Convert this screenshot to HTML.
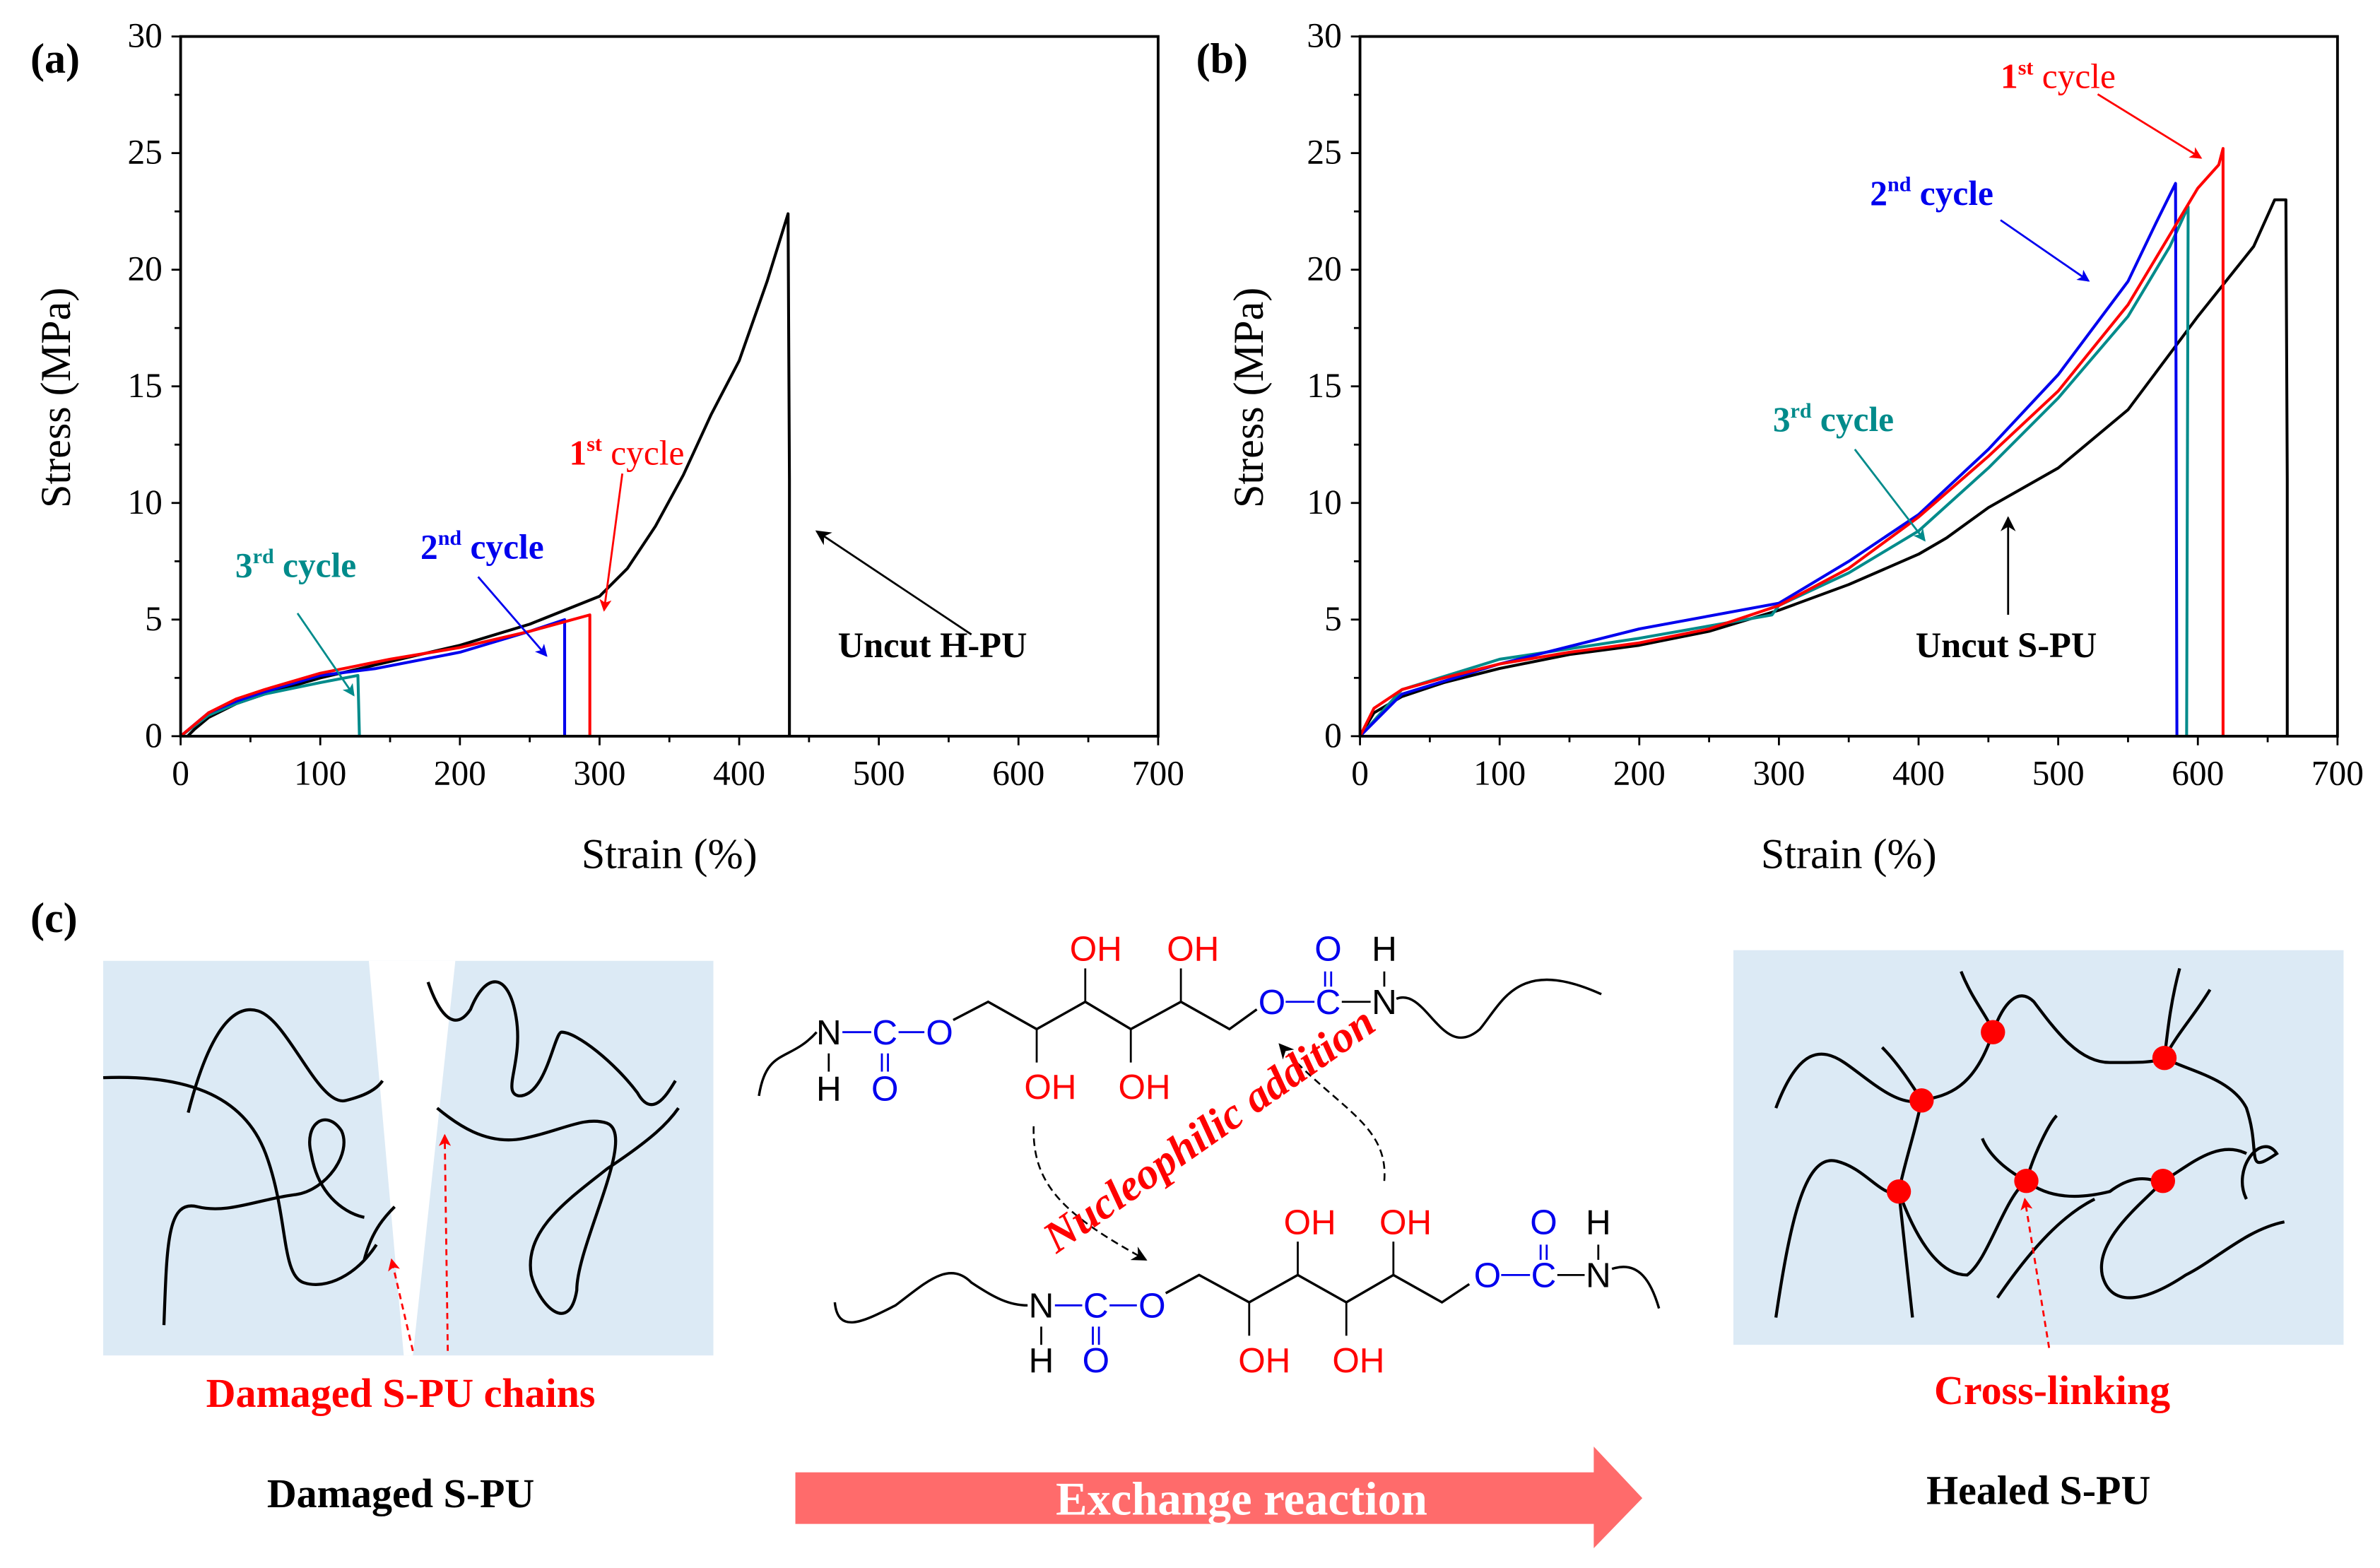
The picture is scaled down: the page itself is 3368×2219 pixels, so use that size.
<!DOCTYPE html>
<html><head><meta charset="utf-8"><style>
html,body{margin:0;padding:0;background:#fff;}
svg{display:block;}
text{font-family:"Liberation Serif",serif;}
.sans{font-family:"Liberation Sans",sans-serif;}
</style></head><body>
<svg id="fig" width="3368" height="2219" viewBox="0 0 1568 1033" xmlns="http://www.w3.org/2000/svg">
<defs>
<marker id="ahR" markerWidth="8" markerHeight="8" refX="7" refY="4" orient="auto" markerUnits="userSpaceOnUse"><path d="M0,0 L8,4 L0,8 L2,4 z" fill="#ff0000"/></marker>
<marker id="ahB" markerWidth="8" markerHeight="8" refX="7" refY="4" orient="auto" markerUnits="userSpaceOnUse"><path d="M0,0 L8,4 L0,8 L2,4 z" fill="#0000ee"/></marker>
<marker id="ahT" markerWidth="8" markerHeight="8" refX="7" refY="4" orient="auto" markerUnits="userSpaceOnUse"><path d="M0,0 L8,4 L0,8 L2,4 z" fill="#008b8b"/></marker>
<marker id="ahK" markerWidth="10" markerHeight="10" refX="9" refY="5" orient="auto" markerUnits="userSpaceOnUse"><path d="M0,0 L10,5 L0,10 L3,5 z" fill="#000"/></marker>
</defs>
<g id="panelA"></g>
<g id="panelB"></g>

<g font-weight="bold">
<text x="375" y="306" font-size="23" fill="#ff0000" font-weight="normal"><tspan font-weight="bold">1</tspan><tspan font-size="14" dy="-9" font-weight="bold">st</tspan><tspan dy="9"> cycle</tspan></text>
<line x1="410" y1="312" x2="398" y2="402" stroke="#ff0000" stroke-width="1.3" marker-end="url(#ahR)"/>
<text x="277" y="368" font-size="23" fill="#0000ee">2<tspan font-size="14" dy="-9">nd</tspan><tspan dy="9"> cycle</tspan></text>
<line x1="315" y1="380" x2="360" y2="432" stroke="#0000ee" stroke-width="1.3" marker-end="url(#ahB)"/>
<text x="155" y="380" font-size="23" fill="#008b8b">3<tspan font-size="14" dy="-9">rd</tspan><tspan dy="9"> cycle</tspan></text>
<line x1="196" y1="404" x2="233" y2="458" stroke="#008b8b" stroke-width="1.3" marker-end="url(#ahT)"/>
<text x="552" y="433" font-size="23.5" fill="#000">Uncut H-PU</text>
<line x1="640" y1="418" x2="538" y2="350" stroke="#000" stroke-width="1.3" marker-end="url(#ahK)"/>
</g>
<g font-weight="bold">
<text x="1318" y="58" font-size="23" fill="#ff0000" font-weight="normal"><tspan font-weight="bold">1</tspan><tspan font-size="14" dy="-9" font-weight="bold">st</tspan><tspan dy="9"> cycle</tspan></text>
<line x1="1382" y1="62" x2="1450" y2="104" stroke="#ff0000" stroke-width="1.3" marker-end="url(#ahR)"/>
<text x="1232" y="135" font-size="23" fill="#0000ee">2<tspan font-size="14" dy="-9">nd</tspan><tspan dy="9"> cycle</tspan></text>
<line x1="1318" y1="145" x2="1376" y2="185" stroke="#0000ee" stroke-width="1.3" marker-end="url(#ahB)"/>
<text x="1168" y="284" font-size="23" fill="#008b8b">3<tspan font-size="14" dy="-9">rd</tspan><tspan dy="9"> cycle</tspan></text>
<line x1="1222" y1="296" x2="1268" y2="356" stroke="#008b8b" stroke-width="1.3" marker-end="url(#ahT)"/>
<text x="1262" y="433" font-size="23.5" fill="#000">Uncut S-PU</text>
<line x1="1323" y1="405" x2="1323" y2="341" stroke="#000" stroke-width="1.3" marker-end="url(#ahK)"/>
</g>

<g>
<text x="20" y="614" font-size="28" font-weight="bold">(c)</text>
<g>
<rect x="68" y="633" width="402" height="260" fill="#dceaf5"/>
<polygon points="243,633 300,633 272,893 266,893" fill="#fff"/>
<g fill="none" stroke="#000" stroke-width="2">
<path d="M68,710 C120,708 160,720 175,760 C190,800 185,840 200,845 C215,850 235,840 248,820"/>
<path d="M124,733 C135,690 150,660 170,666 C190,672 210,730 228,725 C240,722 248,718 252,712"/>
<path d="M108,873 C110,820 110,790 130,795 C150,800 170,790 195,787 C215,784 232,760 225,745 C215,730 200,740 205,760 C210,790 230,800 240,802"/>
<path d="M282,647 C290,670 300,680 310,665 C320,640 335,640 340,670 C345,700 330,720 342,722 C360,722 365,680 370,680 C380,680 405,700 420,720 C430,738 440,720 445,712"/>
<path d="M288,730 C300,740 320,755 345,750 C370,745 385,735 400,740 C420,748 380,820 380,850 C375,880 355,860 350,840 C345,810 375,790 400,770 C430,750 440,740 447,730"/>
<path d="M240,830 C245,810 255,800 260,795"/>
</g>
<line x1="272" y1="890" x2="258" y2="830" stroke="#ff0000" stroke-width="1.3" stroke-dasharray="4,3" marker-end="url(#ahR)"/>
<line x1="295" y1="890" x2="293" y2="748" stroke="#ff0000" stroke-width="1.3" stroke-dasharray="4,3" marker-end="url(#ahR)"/>
<text x="264" y="927" font-size="27" font-weight="bold" fill="#ff0000" text-anchor="middle">Damaged S-PU chains</text>
<text x="264" y="993" font-size="27" font-weight="bold" fill="#000" text-anchor="middle">Damaged S-PU</text>
</g>

<g>
<rect x="1142" y="626" width="402" height="260" fill="#dceaf5"/>
<g fill="none" stroke="#000" stroke-width="2">
<path d="M1170,730 C1185,690 1200,690 1215,700 C1230,710 1250,730 1266,725 C1280,722 1300,720 1313,680 C1320,660 1330,650 1340,660 C1355,680 1370,700 1390,700 C1410,700 1420,700 1426,697 C1440,705 1470,710 1480,730 C1490,760 1478,775 1500,760 C1490,745 1470,770 1480,790"/>
<path d="M1292,640 C1300,660 1310,670 1313,680"/>
<path d="M1436,638 C1430,660 1428,680 1426,697 C1435,680 1445,670 1456,652"/>
<path d="M1240,690 C1250,700 1260,715 1266,725 C1262,745 1255,765 1251,785"/>
<path d="M1170,868 C1180,800 1190,760 1210,765 C1230,770 1240,790 1251,785 C1260,810 1275,840 1296,840 C1310,830 1320,790 1335,778 C1350,790 1370,790 1390,785 C1410,770 1420,780 1425,778 C1440,770 1460,750 1480,760"/>
<path d="M1251,785 C1255,820 1258,850 1260,868"/>
<path d="M1306,750 C1310,760 1320,770 1335,778 C1340,760 1350,740 1355,735"/>
<path d="M1316,855 C1340,820 1360,800 1380,790"/>
<path d="M1425,778 C1415,790 1380,815 1385,840 C1390,860 1410,860 1440,840 C1460,830 1480,810 1505,805"/>
</g>
<g fill="#ff0000">
<circle cx="1313" cy="680" r="8"/><circle cx="1426" cy="697" r="8"/><circle cx="1266" cy="725" r="8"/>
<circle cx="1251" cy="785" r="8"/><circle cx="1335" cy="778" r="8"/><circle cx="1425" cy="778" r="8"/>
</g>
<line x1="1350" y1="888" x2="1334" y2="790" stroke="#ff0000" stroke-width="1.3" stroke-dasharray="4,3" marker-end="url(#ahR)"/>
<text x="1352" y="925" font-size="27" font-weight="bold" fill="#ff0000" text-anchor="middle">Cross-linking</text>
<text x="1343" y="991" font-size="27" font-weight="bold" fill="#000" text-anchor="middle">Healed S-PU</text>
</g>

<g>
<polygon points="524,970 1050,970 1050,953 1082,987 1050,1020 1050,1004 524,1004" fill="#ff6b6b"/>
<text x="818" y="998" font-size="31" font-weight="bold" fill="#fff" text-anchor="middle">Exchange reaction</text>
</g>

<g class="sans" font-size="23">
<path d="M500,722 C505,690 520,700 538,680" fill="none" stroke="#000" stroke-width="1.6"/>
<text class="sans" x="546" y="688" text-anchor="middle" fill="#000">N</text>
<text class="sans" x="546" y="725" text-anchor="middle" fill="#000">H</text>
<line x1="546" y1="694" x2="546" y2="706" stroke="#000" stroke-width="1.3"/>
<line x1="555" y1="680" x2="574" y2="680" stroke="#0000ee" stroke-width="1.3"/>
<text class="sans" x="583" y="688" text-anchor="middle" fill="#0000ee">C</text>
<line x1="592" y1="680" x2="609" y2="680" stroke="#0000ee" stroke-width="1.3"/>
<text class="sans" x="619" y="688" text-anchor="middle" fill="#0000ee">O</text>
<line x1="581" y1="694" x2="581" y2="706" stroke="#0000ee" stroke-width="1.3"/><line x1="585" y1="694" x2="585" y2="706" stroke="#0000ee" stroke-width="1.3"/>
<text class="sans" x="583" y="725" text-anchor="middle" fill="#0000ee">O</text>
<polyline points="628,672 651,660 683,678 715,660 745,678 778,660 810,678 828,665" fill="none" stroke="#000" stroke-width="1.6"/>
<line x1="715" y1="660" x2="715" y2="638" stroke="#000" stroke-width="1.3"/><line x1="778" y1="660" x2="778" y2="638" stroke="#000" stroke-width="1.3"/>
<line x1="683" y1="678" x2="683" y2="700" stroke="#000" stroke-width="1.3"/><line x1="745" y1="678" x2="745" y2="700" stroke="#000" stroke-width="1.3"/>
<text class="sans" x="722" y="633" text-anchor="middle" fill="#ff0000">OH</text>
<text class="sans" x="786" y="633" text-anchor="middle" fill="#ff0000">OH</text>
<text class="sans" x="692" y="724" text-anchor="middle" fill="#ff0000">OH</text>
<text class="sans" x="754" y="724" text-anchor="middle" fill="#ff0000">OH</text>
<text class="sans" x="838" y="668" text-anchor="middle" fill="#0000ee">O</text>
<line x1="847" y1="660" x2="866" y2="660" stroke="#0000ee" stroke-width="1.3"/>
<text class="sans" x="875" y="668" text-anchor="middle" fill="#0000ee">C</text>
<line x1="873" y1="640" x2="873" y2="650" stroke="#0000ee" stroke-width="1.3"/><line x1="877" y1="640" x2="877" y2="650" stroke="#0000ee" stroke-width="1.3"/>
<text class="sans" x="875" y="633" text-anchor="middle" fill="#0000ee">O</text>
<line x1="884" y1="660" x2="903" y2="660" stroke="#000" stroke-width="1.3"/>
<text class="sans" x="912" y="668" text-anchor="middle" fill="#000">N</text>
<line x1="912" y1="640" x2="912" y2="650" stroke="#000" stroke-width="1.3"/>
<text class="sans" x="912" y="633" text-anchor="middle" fill="#000">H</text>
<path d="M920,658 C940,650 950,700 975,678 C990,660 1000,630 1055,655" fill="none" stroke="#000" stroke-width="1.6"/>
</g>
<g class="sans" font-size="23">
<path d="M550,858 C552,880 570,870 590,860 C610,845 625,830 640,845 C655,855 665,860 677,860" fill="none" stroke="#000" stroke-width="1.6"/>
<text class="sans" x="686" y="868" text-anchor="middle" fill="#000">N</text>
<line x1="686" y1="874" x2="686" y2="886" stroke="#000" stroke-width="1.3"/>
<text class="sans" x="686" y="904" text-anchor="middle" fill="#000">H</text>
<line x1="695" y1="860" x2="713" y2="860" stroke="#0000ee" stroke-width="1.3"/>
<text class="sans" x="722" y="868" text-anchor="middle" fill="#0000ee">C</text>
<line x1="731" y1="860" x2="749" y2="860" stroke="#0000ee" stroke-width="1.3"/>
<text class="sans" x="759" y="868" text-anchor="middle" fill="#0000ee">O</text>
<line x1="720" y1="874" x2="720" y2="886" stroke="#0000ee" stroke-width="1.3"/><line x1="724" y1="874" x2="724" y2="886" stroke="#0000ee" stroke-width="1.3"/>
<text class="sans" x="722" y="904" text-anchor="middle" fill="#0000ee">O</text>
<polyline points="768,852 790,840 823,858 855,840 887,858 918,840 950,858 968,846" fill="none" stroke="#000" stroke-width="1.6"/>
<line x1="855" y1="840" x2="855" y2="818" stroke="#000" stroke-width="1.3"/><line x1="918" y1="840" x2="918" y2="818" stroke="#000" stroke-width="1.3"/>
<line x1="823" y1="858" x2="823" y2="880" stroke="#000" stroke-width="1.3"/><line x1="887" y1="858" x2="887" y2="880" stroke="#000" stroke-width="1.3"/>
<text class="sans" x="863" y="813" text-anchor="middle" fill="#ff0000">OH</text>
<text class="sans" x="926" y="813" text-anchor="middle" fill="#ff0000">OH</text>
<text class="sans" x="833" y="904" text-anchor="middle" fill="#ff0000">OH</text>
<text class="sans" x="895" y="904" text-anchor="middle" fill="#ff0000">OH</text>
<text class="sans" x="980" y="848" text-anchor="middle" fill="#0000ee">O</text>
<line x1="989" y1="840" x2="1008" y2="840" stroke="#0000ee" stroke-width="1.3"/>
<text class="sans" x="1017" y="848" text-anchor="middle" fill="#0000ee">C</text>
<line x1="1015" y1="820" x2="1015" y2="830" stroke="#0000ee" stroke-width="1.3"/><line x1="1019" y1="820" x2="1019" y2="830" stroke="#0000ee" stroke-width="1.3"/>
<text class="sans" x="1017" y="813" text-anchor="middle" fill="#0000ee">O</text>
<line x1="1026" y1="840" x2="1044" y2="840" stroke="#000" stroke-width="1.3"/>
<text class="sans" x="1053" y="848" text-anchor="middle" fill="#000">N</text>
<line x1="1053" y1="820" x2="1053" y2="830" stroke="#000" stroke-width="1.3"/>
<text class="sans" x="1053" y="813" text-anchor="middle" fill="#000">H</text>
<path d="M1062,836 C1080,830 1088,845 1093,862" fill="none" stroke="#000" stroke-width="1.6"/>
</g>
<path d="M681,742 C680,780 700,800 755,830" fill="none" stroke="#000" stroke-width="1.2" stroke-dasharray="5,3" marker-end="url(#ahK)"/>
<path d="M912,778 C915,740 880,730 843,688" fill="none" stroke="#000" stroke-width="1.2" stroke-dasharray="5,3" marker-end="url(#ahK)"/>
<text x="802" y="752" font-size="29" font-weight="bold" font-style="italic" fill="#ff0000" text-anchor="middle" transform="rotate(-35 802 752)">Nucleophilic addition</text>
</svg>
<script>
// Panel (a) data
const aUncutX = [5,10,20,40,60,100,150,200,250,300,320,340,360,380,400,420,435,436,436];
const aUncutY = [0,0.3,0.8,1.4,1.8,2.5,3.2,3.9,4.8,6.0,7.2,9.0,11.2,13.8,16.1,19.5,22.4,11,0];
const a1stX = [0,10,20,40,60,100,150,200,250,293,293];
const a1stY = [0,0.5,1.0,1.6,2.0,2.7,3.3,3.8,4.5,5.2,0];
const a2ndX = [0,20,40,60,100,140,200,250,275,275];
const a2ndY = [0,1.0,1.5,1.9,2.6,2.9,3.6,4.5,5.0,0];
const a3rdX = [0,20,40,60,100,127,128];
const a3rdY = [0,0.9,1.4,1.8,2.3,2.6,0];
// Panel (b) data
const bUncutX = [0,10,30,60,100,150,200,250,300,350,400,420,450,500,550,600,640,655,663,664,664];
const bUncutY = [0,1.0,1.7,2.3,2.9,3.5,3.9,4.5,5.4,6.5,7.8,8.5,9.8,11.5,14.0,18.0,21.0,23.0,23.0,11,0];
const b1stX = [0,10,30,60,100,150,200,250,300,350,400,450,500,550,580,600,615,618,618];
const b1stY = [0,1.2,2.0,2.5,3.1,3.6,4.0,4.6,5.6,7.2,9.4,12.0,14.8,18.5,21.5,23.5,24.5,25.2,0];
const b2ndX = [0,30,100,200,300,350,400,450,500,550,570,584,585];
const b2ndY = [0,1.8,3.1,4.6,5.7,7.5,9.5,12.3,15.5,19.5,22.0,23.7,0];
const b3rdX = [0,30,100,200,295,300,350,400,450,500,550,580,593,592];
const b3rdY = [0,2.0,3.3,4.2,5.2,5.6,7.0,8.8,11.5,14.5,18.0,21.0,22.7,0];
const xTicks = [0,100,200,300,400,500,600,700];
const yTicks = [0,5,10,15,20,25,30];

const NS = "http://www.w3.org/2000/svg";
function mk(tag, attrs, parent){const e=document.createElementNS(NS,tag);for(const k in attrs)e.setAttribute(k,attrs[k]);parent.appendChild(e);return e;}

function drawPanel(g, left, label, labelX, ytitleX, series){
  const right = left + 644, top = 24, bottom = 485;
  const sx = v => left + v/700*(right-left);
  const sy = v => bottom - v/30*(bottom-top);
  const lab = mk('text',{x:labelX,y:48,'font-size':28,'font-weight':'bold'},g);
  lab.textContent = label;
  
  
  for (let v=0; v<=700; v+=50){
    const t = mk('line',{x1:sx(v),x2:sx(v),y1:bottom,y2:bottom+(v%100===0?6:4),stroke:'#000','stroke-width':1.3},g);
    
    
  }
  for (let v=0; v<=30; v+=2.5){
    const t = mk('line',{x1:left-(v%5===0?6:4),x2:left,y1:sy(v),y2:sy(v),stroke:'#000','stroke-width':1.3},g);
    
    
  }
  xTicks.forEach(v=>{
    const t = mk('text',{x:sx(v),y:bottom+32,'font-size':23,'text-anchor':'middle'},g);
    t.textContent = v;
    
    
  });
  yTicks.forEach(v=>{
    const t = mk('text',{x:left-12,y:sy(v)+7,'font-size':23,'text-anchor':'end'},g);
    t.textContent = v;
    
    
  });
  const xt = mk('text',{x:(left+right)/2,y:572,'font-size':28,'text-anchor':'middle'},g);
  xt.textContent = 'Strain (%)';
  
  
  const yt = mk('text',{x:ytitleX,y:262,'font-size':28,'text-anchor':'middle',transform:`rotate(-90 ${ytitleX} 262)`},g);
  yt.textContent = 'Stress (MPa)';
  
  
  series.forEach(s=>{
    const d = s.x.map((v,i)=>(i?'L':'M')+sx(v).toFixed(1)+','+sy(s.y[i]).toFixed(1)).join(' ');
    const p = mk('path',{d:d,fill:'none',stroke:s.c,'stroke-width':1.9,'stroke-linejoin':'round'},g);
    
    
  });
  const box = mk('rect',{x:left,y:top,width:right-left,height:bottom-top,fill:'none',stroke:'#000','stroke-width':1.8},g);
  
  
}
drawPanel(document.getElementById('panelA'), 119, '(a)', 20, 46, [
  {x:aUncutX,y:aUncutY,c:'#000',n:'line-uncut-hpu'},
  {x:a3rdX,y:a3rdY,c:'#008b8b',n:'line-3rd-cycle'},
  {x:a2ndX,y:a2ndY,c:'#0000ee',n:'line-2nd-cycle'},
  {x:a1stX,y:a1stY,c:'#ff0000',n:'line-1st-cycle'}]);
drawPanel(document.getElementById('panelB'), 896, '(b)', 788, 832, [
  {x:bUncutX,y:bUncutY,c:'#000',n:'line-uncut-spu'},
  {x:b3rdX,y:b3rdY,c:'#008b8b',n:'line-3rd-cycle'},
  {x:b2ndX,y:b2ndY,c:'#0000ee',n:'line-2nd-cycle'},
  {x:b1stX,y:b1stY,c:'#ff0000',n:'line-1st-cycle'}]);
</script>
</body></html>
